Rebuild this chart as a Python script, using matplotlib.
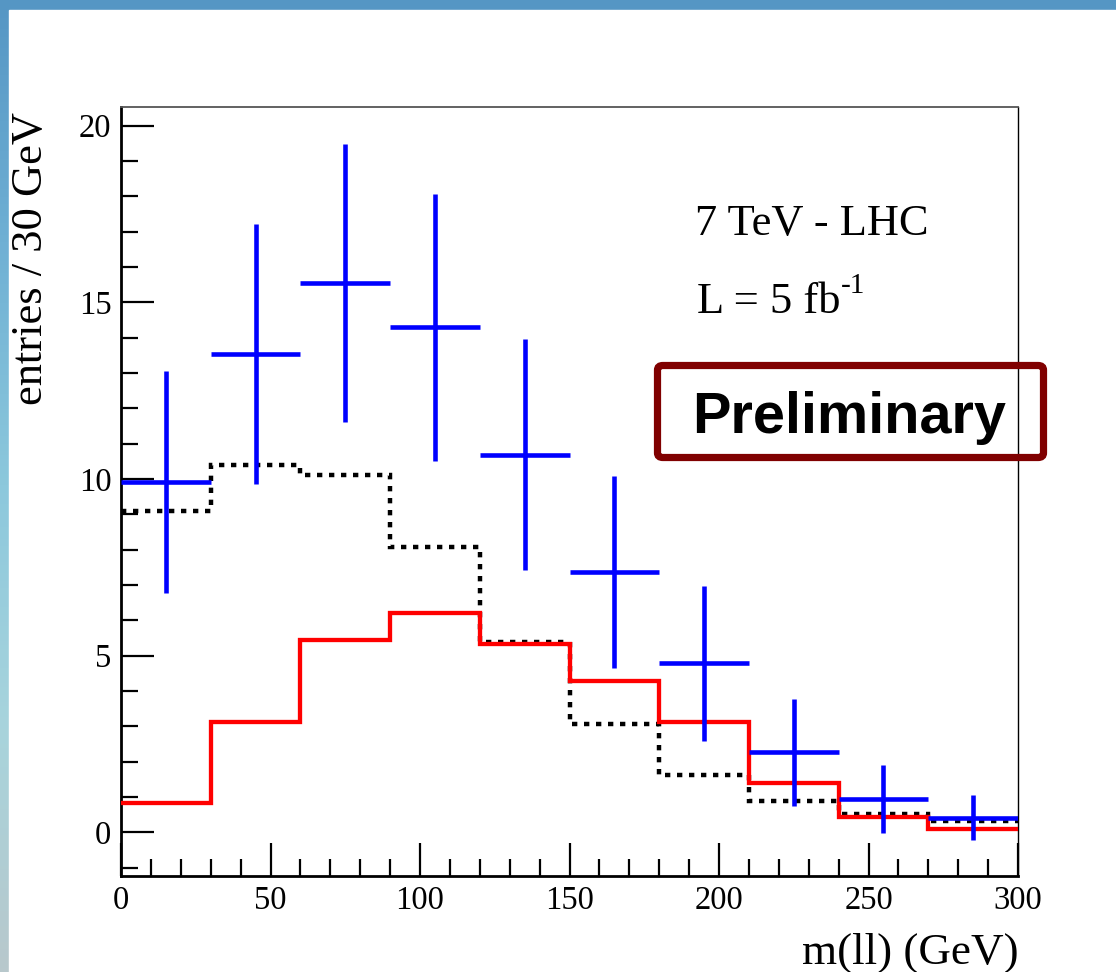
import numpy as np
import matplotlib
matplotlib.use("Agg")
import matplotlib.pyplot as plt
from matplotlib.patches import FancyBboxPatch, Rectangle
from matplotlib.ticker import MultipleLocator
from matplotlib.colors import LinearSegmentedColormap

# ---- data ----
bin_edges = [0, 30, 60, 90, 120, 150, 180, 210, 240, 270, 300]
data_counts = [9.91, 13.54, 15.55, 14.30, 10.68, 7.37, 4.78, 2.26, 0.93, 0.41]
data_errors = [3.15, 3.68, 3.94, 3.78, 3.27, 2.71, 2.19, 1.51, 0.96, 0.64]
dotted_counts = [9.09, 10.39, 10.11, 8.07, 5.38, 3.05, 1.62, 0.87, 0.52, 0.31]
red_counts = [0.82, 3.13, 5.43, 6.20, 5.34, 4.29, 3.12, 1.38, 0.42, 0.08]
x_ticks = [0, 50, 100, 150, 200, 250, 300]
y_ticks = [0, 5, 10, 15, 20]

serif = "Liberation Serif"

fig = plt.figure(figsize=(11.16, 9.72), dpi=100)

# slide background strips (top and left)
bg = fig.add_axes([0, 0, 1, 1], zorder=-10)
grad = np.linspace(0, 1, 256).reshape(-1, 1)
cmap = LinearSegmentedColormap.from_list("bg", ["#5596c4", "#6fb0d4", "#8cc8dc", "#a8d4dc", "#b8c8cc"])
bg.imshow(grad, aspect="auto", cmap=cmap, extent=[0, 1, 0, 1], origin="upper")
bg.add_patch(Rectangle((9 / 1116, 0), 1, 1 - 10 / 972, color="white", transform=bg.transAxes))
bg.set_xlim(0, 1)
bg.set_ylim(0, 1)
bg.axis("off")

ax = fig.add_axes([121 / 1116, 1 - 876 / 972, (1018 - 121) / 1116, (876 - 107) / 972])
ax.set_facecolor("white")

edges = np.array(bin_edges, dtype=float)
centers = 0.5 * (edges[:-1] + edges[1:])
halfw = 0.5 * np.diff(edges)

ax.stairs(dotted_counts, edges, baseline=None, color="black", lw=3.2,
          linestyle=(0, (1.2, 1.5)), zorder=2)
ax.stairs(red_counts, edges, baseline=None, color="#ff0000", lw=3.1, zorder=3)
ax.errorbar(centers, data_counts, xerr=halfw, yerr=data_errors, fmt="none",
            ecolor="#0000ff", elinewidth=3.3, capsize=0, zorder=4)

ax.set_xlim(0, 300)
ax.set_ylim(-1.24, 20.53)

ax.set_xticks(x_ticks)
ax.set_yticks(y_ticks)
ax.xaxis.set_minor_locator(MultipleLocator(10))
ax.yaxis.set_minor_locator(MultipleLocator(1))
ax.tick_params(which="both", direction="in", top=False, right=False, width=1.6,
               labelsize=23.5, color="black")
ax.tick_params(which="major", length=24)
ax.tick_params(which="minor", length=12)
ax.tick_params(axis="x", pad=7)
ax.tick_params(axis="y", pad=7)
for lab in ax.get_xticklabels() + ax.get_yticklabels():
    lab.set_fontfamily(serif)

ax.spines["left"].set_linewidth(2.0)
ax.spines["bottom"].set_linewidth(2.0)
ax.spines["top"].set_linewidth(1.3)
ax.spines["top"].set_color("#555555")
ax.spines["right"].set_linewidth(1.0)

ax.set_xlabel("m(ll) (GeV)", fontsize=32.5, fontfamily=serif, loc="right")
ax.xaxis.set_label_coords(1.001, -0.074)
ax.set_ylabel("entries / 30 GeV", fontsize=32, fontfamily=serif, loc="top")
ax.yaxis.set_label_coords(-0.078, 0.994)

ax.text(0.640, 0.8336, "7 TeV - LHC", transform=ax.transAxes, fontsize=32,
        fontfamily=serif, va="baseline", ha="left")
ax.text(0.642, 0.7325, "L = 5 fb", transform=ax.transAxes, fontsize=32,
        fontfamily=serif, va="baseline", ha="left")
ax.text((841 - 121) / 897, (876 - 293) / 769, "-1", transform=ax.transAxes, fontsize=21,
        fontfamily=serif, va="baseline", ha="left")

# Preliminary box
box = FancyBboxPatch(((657.5 - 121) / 897, (876 - 457.5) / 769),
                     (1043.5 - 657.5) / 897, (457.5 - 365.5) / 769,
                     boxstyle="round,pad=0,rounding_size=0.006",
                     transform=ax.transAxes, fill=False, edgecolor="#800000",
                     lw=5.2, clip_on=False, zorder=6)
ax.add_patch(box)
ax.text((692 - 121) / 897, (876 - 432.7) / 769, "Preliminary", transform=ax.transAxes,
        fontsize=41.5, fontfamily="Liberation Sans", fontweight="bold",
        va="baseline", ha="left", zorder=7)

fig.savefig("out.png", dpi=100)
